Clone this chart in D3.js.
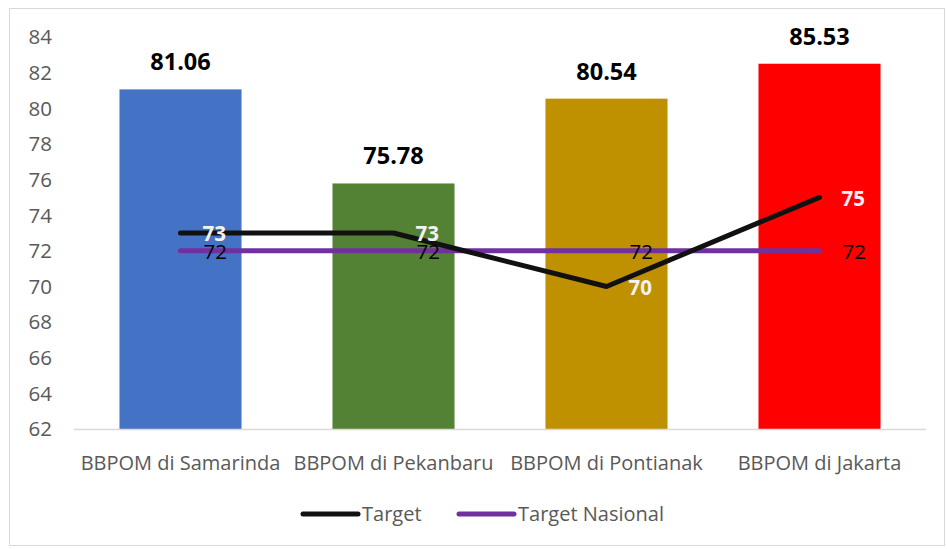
<!DOCTYPE html>
<html>
<head>
<meta charset="utf-8">
<script src="https://cdn.jsdelivr.net/npm/d3@7"></script>
<style>
  body { margin: 0; background: #fff; }
  text { font-family: "Open Sans", "Noto Sans", sans-serif; }
</style>
</head>
<body>
<script>
var w = 947;
var h = 549;

// data
var categories = ["BBPOM di Samarinda", "BBPOM di Pekanbaru", "BBPOM di Pontianak", "BBPOM di Jakarta"];
var barValues = [81.06, 75.78, 80.54, 82.5];   // drawn height of the bars
var barLabels = ["81.06", "75.78", "80.54", "85.53"]; // printed labels
var barColors = ["#4472c4", "#548235", "#bf9000", "#ff0000"];
var target = [73, 73, 70, 75];
var targetNasional = [72, 72, 72, 72];
var yTicks = [62, 64, 66, 68, 70, 72, 74, 76, 78, 80, 82, 84];

var svg = d3.select("body")
    .append("svg")
    .attr("width", w)
    .attr("height", h);

// chart border
svg.append("rect")
    .attr("x", 9.5).attr("y", 8.5)
    .attr("width", 935).attr("height", 537)
    .attr("fill", "#fff")
    .attr("stroke", "#d9d9d9");

var x = d3.scaleBand()
    .domain(categories)
    .range([74, 926])
    .paddingInner(0.427)
    .paddingOuter(0.2135);

var y = d3.scaleLinear()
    .domain([62, 84])
    .range([429, 37]);

// y tick labels
svg.append("g")
    .selectAll("text")
    .data(yTicks)
    .enter()
    .append("text")
    .attr("x", 52)
    .attr("y", d => y(d))
    .attr("dy", "0.36em")
    .attr("text-anchor", "end")
    .attr("fill", "#595959")
    .attr("font-size", 20.5)
    .text(d => d);

// bars
svg.append("g")
    .selectAll("rect")
    .data(barValues)
    .enter()
    .append("rect")
    .attr("x", (d, i) => x(categories[i]))
    .attr("y", d => y(d))
    .attr("width", x.bandwidth())
    .attr("height", d => y(62) - y(d))
    .attr("fill", (d, i) => barColors[i]);

// baseline
svg.append("line")
    .attr("x1", 74).attr("x2", 926)
    .attr("y1", y(62) + 0.5).attr("y2", y(62) + 0.5)
    .attr("stroke", "#d9d9d9")
    .attr("stroke-width", 1.5);

// bar labels
svg.append("g")
    .selectAll("text")
    .data(barValues)
    .enter()
    .append("text")
    .attr("x", (d, i) => x(categories[i]) + x.bandwidth() / 2)
    .attr("y", d => y(d) - 19)
    .attr("text-anchor", "middle")
    .attr("font-size", 23.5)
    .attr("font-weight", "bold")
    .attr("fill", "#000")
    .text((d, i) => barLabels[i]);

// category labels
svg.append("g")
    .selectAll("text")
    .data(categories)
    .enter()
    .append("text")
    .attr("x", d => x(d) + x.bandwidth() / 2)
    .attr("y", 470)
    .attr("text-anchor", "middle")
    .attr("fill", "#595959")
    .attr("font-size", 20)
    .text(d => d);

var cx = i => x(categories[i]) + x.bandwidth() / 2;
var line = d3.line()
    .x((d, i) => cx(i))
    .y(d => y(d));

svg.append("path")
    .datum(targetNasional)
    .attr("d", line)
    .attr("fill", "none")
    .attr("stroke", "#7030a0")
    .attr("stroke-width", 5)
    .attr("stroke-linecap", "round")
    .attr("stroke-linejoin", "round");

svg.append("path")
    .datum(target)
    .attr("d", line)
    .attr("fill", "none")
    .attr("stroke", "#111")
    .attr("stroke-width", 5)
    .attr("stroke-linecap", "round")
    .attr("stroke-linejoin", "round");

// line labels
svg.append("g")
    .selectAll("text")
    .data(targetNasional)
    .enter()
    .append("text")
    .attr("x", (d, i) => cx(i) + 23)
    .attr("y", d => y(d) + 1)
    .attr("dy", "0.36em")
    .attr("font-size", 20.5)
    .attr("fill", "#000")
    .text(d => d);

svg.append("g")
    .selectAll("text")
    .data(target)
    .enter()
    .append("text")
    .attr("x", (d, i) => cx(i) + 22)
    .attr("y", d => y(d) + 1)
    .attr("dy", "0.36em")
    .attr("font-size", 20.5)
    .attr("font-weight", "bold")
    .attr("fill", "#f2f2f2")
    .text(d => d);

// legend
var legend = [["Target", "#111", 303], ["Target Nasional", "#7030a0", 459]];
var lg = svg.append("g")
    .selectAll("g")
    .data(legend)
    .enter()
    .append("g");
lg.append("line")
    .attr("x1", d => d[2]).attr("x2", d => d[2] + 55)
    .attr("y1", 514).attr("y2", 514)
    .attr("stroke", d => d[1])
    .attr("stroke-width", 5)
    .attr("stroke-linecap", "round");
lg.append("text")
    .attr("x", d => d[2] + 59)
    .attr("y", 514)
    .attr("dy", "0.36em")
    .attr("font-size", 20)
    .attr("fill", "#595959")
    .text(d => d[0]);
</script>
</body>
</html>
